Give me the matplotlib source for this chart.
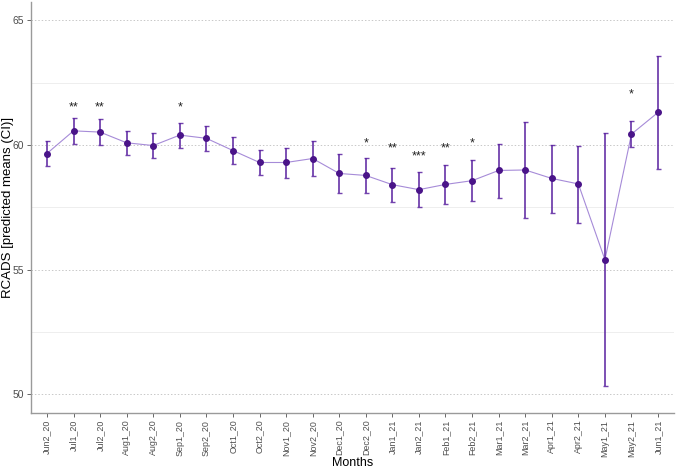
import matplotlib
matplotlib.use("Agg")
import matplotlib.pyplot as plt
import numpy as np

plt.rcParams['font.family'] = ['Liberation Sans', 'DejaVu Sans']

months = ["Jun2_20", "Jul1_20", "Jul2_20", "Aug1_20", "Aug2_20", "Sep1_20", "Sep2_20",
          "Oct1_20", "Oct2_20", "Nov1_20", "Nov2_20", "Dec1_20", "Dec2_20", "Jan1_21",
          "Jan2_21", "Feb1_21", "Feb2_21", "Mar1_21", "Mar2_21", "Apr1_21", "Apr2_21",
          "May1_21", "May2_21", "Jun1_21"]
means = [59.66, 60.57, 60.52, 60.09, 59.98, 60.40, 60.27, 59.78, 59.30, 59.30, 59.46, 58.86,
         58.78, 58.41, 58.21, 58.42, 58.57, 58.98, 59.00, 58.66, 58.44, 55.40, 60.44, 61.31]
ci_low = [59.16, 60.05, 60.00, 59.62, 59.48, 59.90, 59.76, 59.24, 58.80, 58.68, 58.76, 58.07,
          58.09, 57.71, 57.51, 57.63, 57.75, 57.87, 57.08, 57.28, 56.88, 50.32, 59.94, 59.04]
ci_high = [60.17, 61.08, 61.04, 60.55, 60.48, 60.88, 60.76, 60.32, 59.81, 59.89, 60.16, 59.64,
           59.49, 59.08, 58.90, 59.20, 59.38, 60.06, 60.91, 60.02, 59.96, 60.48, 60.95, 63.57]
star_labels = ["", "**", "**", "", "", "*", "", "", "", "", "", "",
               "*", "**", "***", "**", "*", "", "", "", "", "", "*", ""]
star_y = [None, 61.5, 61.5, None, None, 61.5, None, None, None, None, None, None,
          60.05, 59.85, 59.55, 59.85, 60.05, None, None, None, None, None, 62.05, None]

fig = plt.figure(figsize=(6.76, 4.70), dpi=100)
ax = fig.add_axes([31/676, 1 - 412.7/470, (674 - 31)/676, (412.7 - 2)/470])

x = np.arange(len(months))
m = np.array(means)
lo = np.array(ci_low)
hi = np.array(ci_high)

ax.set_ylim(49.26, 65.74)
ax.set_xlim(-0.6, len(months) - 0.4)

# grid
for v in [52.5, 57.5, 62.5]:
    ax.axhline(v, color='#ebebeb', lw=0.6, zorder=0)
for v in [50, 55, 60, 65]:
    ax.axhline(v, color='#c8c8c8', lw=0.7, ls=(0, (1.5, 2)), zorder=0)

ax.plot(x, m, color='#a68bd8', lw=0.8, zorder=2)
ax.errorbar(x, m, yerr=[m - lo, hi - m], fmt='none', ecolor='#5a22a0', elinewidth=1.3,
            capsize=1.8, capthick=1.0, alpha=0.85, zorder=3)
ax.scatter(x, m, s=16, color='#4a1489', zorder=4)

for xi, lab, yv in zip(x, star_labels, star_y):
    if lab:
        ax.text(xi, yv, lab, ha='center', va='center', fontsize=9, color='#222222')

ax.set_xticks(x)
ax.set_xticklabels(months, rotation=90, fontsize=6.4, color='#4d4d4d')
ax.set_yticks([50, 55, 60, 65])
ax.tick_params(axis='y', labelsize=7.4, labelcolor='#4d4d4d', color='#4d4d4d', length=3, width=0.6, pad=2)
ax.tick_params(axis='x', color='#4d4d4d', length=3, width=0.6, pad=2)

for s in ['top', 'right']:
    ax.spines[s].set_visible(False)
for s in ['left', 'bottom']:
    ax.spines[s].set_color('#9a9a9a')
    ax.spines[s].set_linewidth(1.0)

ax.set_ylabel("RCADS [predicted means (CI)]", fontsize=9.5, color='black')
ax.yaxis.set_label_coords((14 - 31) / 643, 0.5)
ax.set_xlabel("Months", fontsize=9, color='black')
ax.xaxis.set_label_coords(0.5, (412.7 - 456.5) / 410.7)

fig.savefig("out.png", dpi=100)
